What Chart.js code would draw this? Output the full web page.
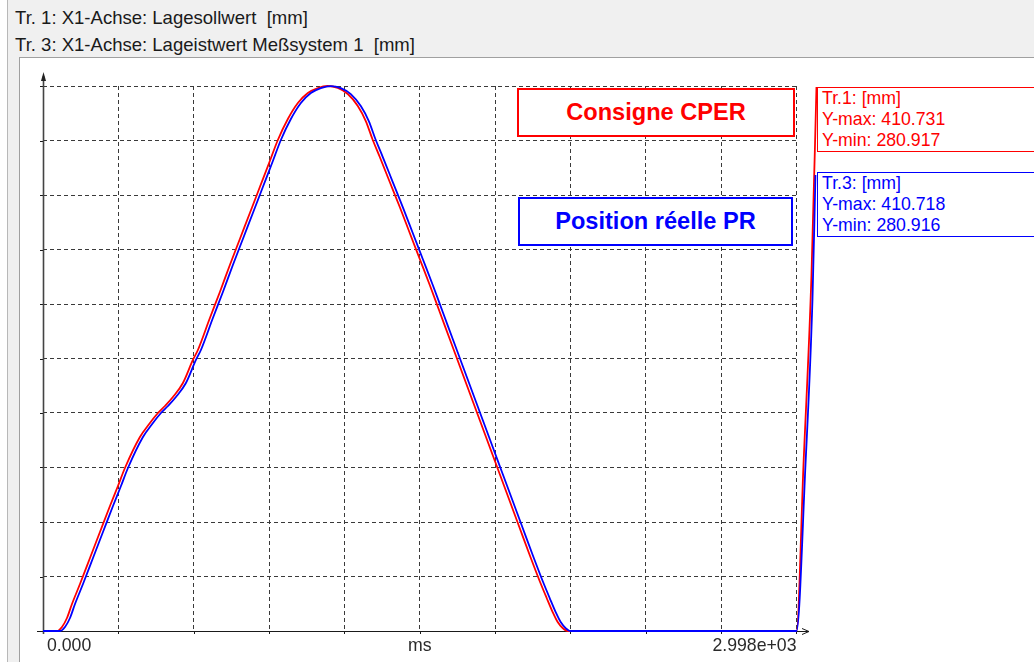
<!DOCTYPE html>
<html>
<head>
<meta charset="utf-8">
<script src="https://cdn.jsdelivr.net/npm/chart.js@4"></script>
<style>
  body { margin: 0; background: #fff; }
  #frame { position: absolute; left: 0; top: 0; width: 1034px; height: 662px; overflow: hidden; background: #fff; }
  #side { position: absolute; left: 7px; top: 0; width: 1027px; height: 662px; background: #f0f0f0; border-left: 1px solid #b8b8b8; }
  .hdr { position: absolute; left: 15px; font: 18.55px "Liberation Sans", Arial, sans-serif; color: #1a1a1a; white-space: pre; }
  #panel { position: absolute; left: 19px; top: 57px; width: 1020px; height: 610px; background: #fff; border-left: 1px solid #a0a0a0; border-top: 1px solid #a0a0a0; }
  #chart { position: absolute; left: 0; top: 0; }
  .note { position: absolute; box-sizing: border-box; background: #fff; border: 2px solid; text-align: center;
          font: bold 23.6px "Liberation Sans", Arial, sans-serif; }
  .info { position: absolute; box-sizing: border-box; background: #fff; border: 1px solid; width: 260px; height: 65px;
          padding-left: 4px; font: 17.7px "Liberation Sans", Arial, sans-serif; line-height: 21px; white-space: pre; }
</style>
</head>
<body>
<div id="frame">
  <div id="side"></div>
  <div class="hdr" style="top:7px">Tr. 1: X1-Achse: Lagesollwert  [mm]</div>
  <div class="hdr" style="top:34px">Tr. 3: X1-Achse: Lageistwert Meßsystem 1  [mm]</div>
  <div id="panel"></div>
  <canvas id="chart" width="1034" height="662"></canvas>
  <div class="note" style="left:517px;top:88px;width:278px;height:49px;line-height:45px;color:#f00;border-color:#f00">Consigne CPER</div>
  <div class="note" style="left:518px;top:197px;width:275px;height:49px;line-height:45px;color:#00f;border-color:#00f">Position réelle PR</div>
  <div class="info" style="left:817px;top:87px;color:#f00;border-color:#f00">Tr.1: [mm]
Y-max: 410.731
Y-min: 280.917</div>
  <div class="info" style="left:817px;top:172px;color:#00f;border-color:#00f">Tr.3: [mm]
Y-max: 410.718
Y-min: 280.916</div>
</div>
<script>
// Tr. 1: Lagesollwert (mm) over time (ms)
const sollZeit = [0, 55.7, 75.5, 95.4, 115.3, 147.1, 186.9, 226.6, 266.4, 298.2,
  326.0, 385.7, 425.4, 457.3, 485.1, 516.9, 556.7, 596.4, 616.3, 664.0,
  703.8, 743.5, 783.3, 823.1, 862.8, 902.6, 934.4, 974.2, 1014.0, 1053.7,
  1093.5, 1133.2, 1173.0, 1212.8, 1252.5, 1284.3, 1312.1, 1340.0, 1379.7, 1419.5,
  1459.2, 1499.0, 1538.8, 1578.5, 1618.3, 1658.0, 1697.8, 1737.6, 1777.3, 1817.1,
  1856.9, 1896.6, 1936.4, 1976.1, 2004.0, 2027.8, 2047.7, 2067.6, 2087.5, 2998,
  3025.8, 3057.6, 3077.5];
const sollwert = [280.917, 280.917, 281.87, 284.01, 287.35, 292.11, 298.30, 304.50, 310.69, 315.45,
  319.74, 327.12, 330.46, 332.84, 334.51, 336.65, 339.99, 345.47, 347.85, 355.47,
  361.66, 368.09, 374.29, 380.48, 386.67, 392.87, 397.87, 402.87, 406.68, 409.06,
  410.25, 410.731, 410.25, 408.82, 405.97, 402.39, 397.87, 393.82, 387.86, 381.91,
  375.72, 369.53, 363.34, 356.90, 350.47, 344.04, 337.61, 331.18, 324.75, 318.32,
  311.88, 305.45, 299.02, 292.83, 288.78, 285.44, 283.06, 281.63, 280.917, 280.917,
  320.46, 365.71, 410.49];

// Tr. 3: Lageistwert Meßsystem 1 (mm)
const istZeit = [0, 67.7, 87.5, 107.4, 127.3, 159.1, 198.9, 238.6, 278.4, 310.2,
  338.0, 397.7, 437.4, 469.3, 497.1, 528.9, 568.7, 608.4, 628.3, 676.0,
  715.8, 755.5, 795.3, 835.1, 874.8, 914.6, 946.4, 986.2, 1026.0, 1065.7,
  1105.5, 1145.2, 1185.0, 1224.8, 1264.5, 1296.3, 1324.1, 1352.0, 1391.7, 1431.5,
  1471.2, 1511.0, 1550.8, 1590.5, 1630.3, 1670.0, 1709.8, 1749.6, 1789.3, 1829.1,
  1868.9, 1908.6, 1948.4, 1988.1, 2016.0, 2039.8, 2059.7, 2079.6, 2099.5, 2998,
  3033.7, 3061.5, 3073.5];
const istwert = [280.916, 280.916, 281.87, 284.01, 287.35, 292.11, 298.30, 304.50, 310.69, 315.45,
  319.74, 327.12, 330.46, 332.84, 334.51, 336.65, 339.99, 345.47, 347.85, 355.47,
  361.66, 368.09, 374.29, 380.48, 386.67, 392.87, 397.87, 402.86, 406.67, 409.05,
  410.24, 410.718, 410.24, 408.81, 405.96, 402.38, 397.86, 393.81, 387.85, 381.90,
  375.71, 369.52, 363.33, 356.89, 350.46, 344.03, 337.60, 331.17, 324.74, 318.31,
  311.87, 305.44, 299.01, 292.82, 288.77, 285.43, 283.05, 281.62, 280.916, 280.916,
  320.46, 359.76, 389.53];

const xBereich = [0, 2998];
const yBereich = [280.917, 410.731];
const teilungen = 10;
const xTickWerte = [0, 1499, 2998];
const xTickLabels = ['0.000', 'ms', '2.998e+03'];

function punkte(zeit, werte) {
  return zeit.map((t, i) => ({ x: t, y: werte[i] }));
}

function gleichTeilen(scale, lo, hi) {
  scale.ticks = [];
  for (let i = 0; i <= teilungen; i++) {
    scale.ticks.push({ value: lo + (hi - lo) * i / teilungen });
  }
}

// axes with arrows, tick stubs and the three x labels
const achsen = {
  id: 'achsen',
  beforeDatasetsDraw(chart) {
    const { ctx, chartArea: a, scales } = chart;
    const x = scales.x, y = scales.y;
    ctx.save();
    ctx.strokeStyle = '#1a1a1a';
    ctx.lineWidth = 1;
    ctx.beginPath();
    x.ticks.forEach(t => {
      const px = Math.round(x.getPixelForValue(t.value)) + 0.5;
      ctx.moveTo(px, a.bottom);
      ctx.lineTo(px, a.bottom + 3);
    });
    y.ticks.forEach(t => {
      const py = Math.round(y.getPixelForValue(t.value)) + 0.5;
      ctx.moveTo(a.left - 3, py);
      ctx.lineTo(a.left, py);
    });
    const by = Math.round(a.bottom) + 0.5;
    ctx.moveTo(a.left - 6, by);
    ctx.lineTo(a.right + 12, by);
    ctx.moveTo(a.right + 5, by - 3);
    ctx.lineTo(a.right + 12, by);
    ctx.lineTo(a.right + 5, by + 3);
    ctx.stroke();

    const lx = Math.round(a.left) + 0.5;
    ctx.strokeStyle = '#444';
    ctx.lineWidth = 1.6;
    ctx.beginPath();
    ctx.moveTo(lx, a.bottom + 3);
    ctx.lineTo(lx, a.top - 10);
    ctx.stroke();
    ctx.fillStyle = '#222';
    ctx.beginPath();
    ctx.moveTo(lx, a.top - 14);
    ctx.lineTo(lx - 2.5, a.top - 5);
    ctx.lineTo(lx + 2.5, a.top - 5);
    ctx.closePath();
    ctx.fill();

    ctx.fillStyle = '#2a2a2a';
    ctx.font = '17.7px "Liberation Sans", Arial, sans-serif';
    ctx.textBaseline = 'middle';
    const aligns = ['left', 'center', 'right'];
    xTickLabels.forEach((txt, i) => {
      ctx.textAlign = aligns[i];
      const px = x.getPixelForValue(xTickWerte[i]) + (i === 0 ? 4 : 0);
      ctx.fillText(txt, px, a.bottom + 15);
    });
    ctx.restore();
  }
};

const gitter = { color: '#3a3a3a', lineWidth: 1, drawTicks: false };

new Chart(document.getElementById('chart'), {
  type: 'line',
  data: {
    datasets: [
      { label: 'Tr. 3', data: punkte(istZeit, istwert), borderColor: '#0000ff', borderWidth: 1.8,
        pointRadius: 0, cubicInterpolationMode: 'monotone', clip: false },
      { label: 'Tr. 1', data: punkte(sollZeit, sollwert), borderColor: '#ff0000', borderWidth: 1.8,
        pointRadius: 0, cubicInterpolationMode: 'monotone', clip: false }
    ]
  },
  options: {
    responsive: false,
    devicePixelRatio: 1,
    animation: false,
    layout: { padding: { left: 43, top: 86, right: 237, bottom: 31 } },
    plugins: { legend: { display: false }, tooltip: { enabled: false } },
    scales: {
      x: {
        type: 'linear',
        afterDataLimits: s => { s.min = xBereich[0]; s.max = xBereich[1]; },
        afterBuildTicks: s => gleichTeilen(s, xBereich[0], xBereich[1]),
        ticks: { display: false },
        grid: gitter,
        border: { display: false, dash: [4, 3] }
      },
      y: {
        type: 'linear',
        min: yBereich[0],
        max: yBereich[1],
        afterBuildTicks: s => gleichTeilen(s, yBereich[0], yBereich[1]),
        ticks: { display: false },
        grid: gitter,
        border: { display: false, dash: [4, 3] }
      }
    }
  },
  plugins: [achsen]
});
</script>
</body>
</html>
